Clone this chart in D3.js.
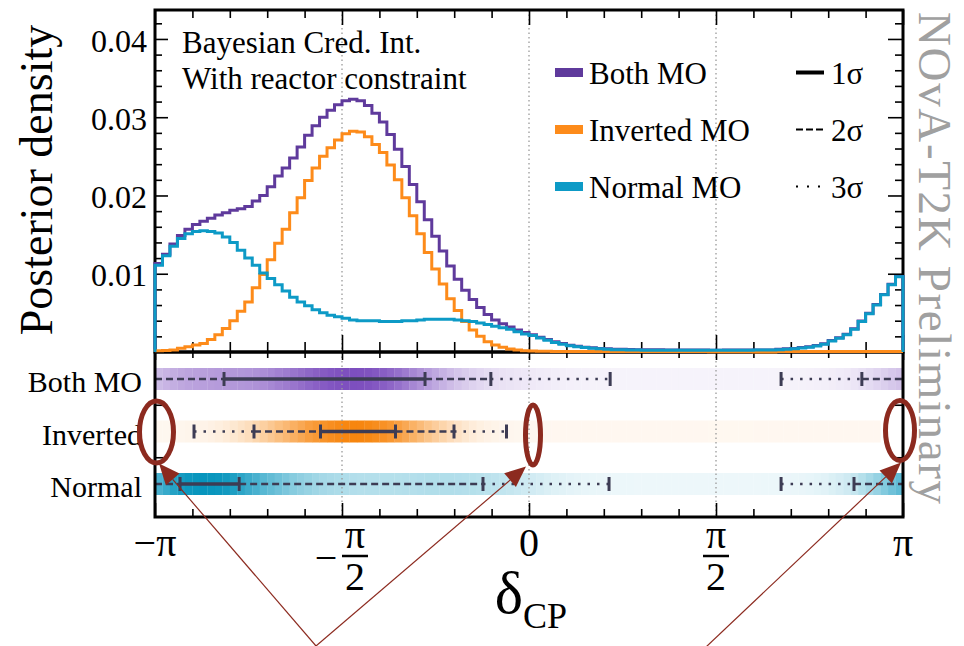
<!DOCTYPE html>
<html><head><meta charset="utf-8">
<script src="https://cdn.jsdelivr.net/npm/d3@7"></script>
<style>
body{margin:0;background:#fff}
svg{display:block}
text{font-family:"Liberation Serif","Times New Roman",serif;fill:#000}
</style>
</head><body>
<svg id="c" width="964" height="646"></svg>
<script>
// ---------------- data ----------------
const nBins = 100; // bins over [-pi, pi]
const densityNormal = [
0.0111,0.0123,0.0135,0.0145,0.0151,0.0154,0.0155,0.0154,0.0152,0.0147,
0.0140,0.0130,0.0120,0.0111,0.0101,0.0094,0.0086,0.0078,0.0070,0.0064,
0.0059,0.0054,0.0050,0.0047,0.0045,0.0043,0.0041,0.0040,0.0040,0.0040,
0.0039,0.0039,0.0039,0.0040,0.0040,0.0041,0.0042,0.0042,0.0042,0.0042,
0.0041,0.0040,0.0039,0.0037,0.0035,0.0033,0.0031,0.0029,0.0026,0.0023,
0.0021,0.0018,0.0015,0.0012,0.0010,0.00080,0.00068,0.00056,0.00047,0.00040,
0.00034,0.00030,0.00028,0.00026,0.00024,0.00023,0.00022,0.00022,0.00021,0.00021,
0.00021,0.00021,0.00021,0.00021,0.00021,0.00021,0.00022,0.00022,0.00022,0.00023,
0.00024,0.00025,0.00027,0.00030,0.00034,0.00040,0.00050,0.00062,0.00078,0.00100,
0.00140,0.00175,0.0022,0.0029,0.0039,0.0049,0.0060,0.0073,0.0086,0.0096];
const densityInverted = [
0.00017,0.00020,0.00026,0.00047,0.00068,0.00090,0.0011,0.0016,0.0022,0.0030,
0.0040,0.0052,0.0064,0.0082,0.0099,0.0118,0.0139,0.0157,0.0178,0.0197,
0.0219,0.0235,0.0250,0.0261,0.0271,0.0279,0.0282,0.0281,0.0275,0.0265,
0.0255,0.0239,0.0220,0.0197,0.0174,0.0151,0.0127,0.0106,0.0087,0.0068,
0.0053,0.0039,0.0028,0.0020,0.0013,0.00090,0.00060,0.00038,0.00026,0.00017,
0.00013,0.00010,0.00008,0.00007,0.00007,0.00006,0.00006,0.00006,0.00006,0.00006,
0.00006,0.00006,0.00006,0.00006,0.00006,0.00006,0.00006,0.00006,0.00006,0.00006,
0.00006,0.00006,0.00006,0.00006,0.00002,0.00002,0.00002,0.00002,0.00002,0.00002,
0,0,0,0.00006,0.00006,0.00006,0.00006,0.00006,0.00006,0.00006,
0.00006,0.00006,0.00006,0.00006,0.00006,0.00006,0.00006,0.00006,0.00006,0.00006];
const densityBoth = [
0.0113,0.0125,0.0138,0.0149,0.0157,0.0163,0.0167,0.0171,0.0175,0.0178,
0.0181,0.0183,0.0186,0.0193,0.0200,0.0211,0.0225,0.0235,0.0248,0.0262,
0.0277,0.0289,0.0300,0.0309,0.0316,0.0321,0.0323,0.0321,0.0315,0.0305,
0.0294,0.0278,0.0259,0.0237,0.0214,0.0192,0.0169,0.0148,0.0129,0.0110,
0.0093,0.0079,0.0067,0.0057,0.0048,0.0041,0.0036,0.0032,0.0028,0.0025,
0.0022,0.0019,0.0016,0.0013,0.0011,0.00086,0.00074,0.00062,0.00053,0.00046,
0.00040,0.00036,0.00034,0.00032,0.00030,0.00029,0.00028,0.00028,0.00027,0.00027,
0.00027,0.00027,0.00027,0.00027,0.00023,0.00023,0.00024,0.00024,0.00024,0.00025,
0.00024,0.00025,0.00027,0.00036,0.00040,0.00046,0.00056,0.00068,0.00084,0.00106,
0.00146,0.00181,0.00226,0.00296,0.00396,0.00496,0.00606,0.00736,0.00866,0.00966];

// credible intervals, in units of pi: [1sigma, 2sigma, 3sigma], each [low, high] (low > high wraps through +-pi)
const ciBoth     = [[-0.8155,-0.278],[0.890,-0.102],[0.674,0.217]];
const ciInverted = [[-0.5575,-0.357],[-0.7353,-0.2005],[-0.8957,-0.0602]];
const ciNormal   = [[-0.933,-0.775],[0.869,-0.123],[0.674,0.214]];

const yTickValues = [0.01,0.02,0.03,0.04];
const xTickValues = [-1,-0.5,0,0.5,1];           // units of pi
const xTickLabels = ["−π","−π/2","0","π/2","π"];
const rowLabels = ["Both MO","Inverted","Normal"];
const legendLabels = ["Both MO","Inverted MO","Normal MO"];
const sigmaLabels = ["1σ","2σ","3σ"];
const titleLines = ["Bayesian Cred. Int.","With reactor constraint"];
const watermark = "NOvA-T2K Preliminary";

// ---------------- style ----------------
const lineColors = ["#5f3a9c","#fd8b1a","#0d9ac6"];
const bandColors = ["#7d4fbf","#f7860f","#0795bd"];
const ciColor = "#3d3c54";
const red = "#8c2a1f";

// ---------------- layout ----------------
const L = 155, R = 903, T = 10, MID = 352, B = 517;
const svg = d3.select("#c");
const x = d3.scaleLinear().domain([-1,1]).range([L,R]);
const y = d3.scaleLinear().domain([0,0.0437]).range([MID,T]);
const row = d3.scalePoint().domain(rowLabels).range([379,484]);
const binEdges = d3.range(nBins+1).map(i => -1 + 2*i/nBins);

const seriesTop = [densityBoth, densityInverted, densityNormal];
const seriesRows = [densityBoth, densityInverted, densityNormal];
const ciRows = [ciBoth, ciInverted, ciNormal];

// ---------------- bottom panel bands ----------------
const bandH = 22;
rowLabels.forEach((lab, r) => {
  const vals = seriesRows[r];
  const mx = d3.max(vals);
  const col = d3.interpolateRgb("#ffffff", bandColors[r]);
  svg.append("g").selectAll("rect").data(vals).join("rect")
    .filter(v => v > 0)
    .attr("x", (v,i) => x(binEdges[i]))
    .attr("width", (v,i) => x(binEdges[i+1]) - x(binEdges[i]) + 0.3)
    .attr("y", row(lab) - bandH/2)
    .attr("height", bandH)
    .attr("fill", v => col(0.06 + 0.94 * v / mx));
});

// ---------------- grid lines ----------------
svg.append("g").selectAll("line").data([-0.5,0,0.5]).join("line")
  .attr("x1", d => x(d)).attr("x2", d => x(d))
  .attr("y1", T).attr("y2", B)
  .attr("stroke", "#9a9a9a").attr("stroke-width", 1.3)
  .attr("stroke-dasharray", "1.5,3");

// ---------------- credible intervals ----------------
function fwd(a, b) { return a <= b ? [[a,b]] : [[a,1],[-1,b]]; }
const levelStyle = [
  {w:3.5, dash:null},
  {w:2.6, dash:"7,4"},
  {w:2.6, dash:"2.5,7"}
];
rowLabels.forEach((lab, r) => {
  const ci = ciRows[r];
  const yy = row(lab);
  const segs = [];
  fwd(ci[0][0], ci[0][1]).forEach(s => segs.push({s, l:0}));
  fwd(ci[1][0], ci[0][0]).concat(fwd(ci[0][1], ci[1][1])).forEach(s => segs.push({s, l:1}));
  fwd(ci[2][0], ci[1][0]).concat(fwd(ci[1][1], ci[2][1])).forEach(s => segs.push({s, l:2}));
  const g = svg.append("g");
  g.selectAll("line.seg").data(segs).join("line").attr("class","seg")
    .attr("x1", d => x(d.s[0])).attr("x2", d => x(d.s[1]))
    .attr("y1", yy).attr("y2", yy)
    .attr("stroke", ciColor)
    .attr("stroke-width", d => levelStyle[d.l].w)
    .attr("stroke-dasharray", d => levelStyle[d.l].dash);
  const caps = ci.flat();
  g.selectAll("line.cap").data(caps).join("line").attr("class","cap")
    .attr("x1", d => x(d)).attr("x2", d => x(d))
    .attr("y1", yy - 7).attr("y2", yy + 7)
    .attr("stroke", ciColor).attr("stroke-width", 3);
});

// ---------------- axes / ticks ----------------
const xMinor = d3.range(-10, 11).map(i => i/10).filter(v => Math.abs(v*2 - Math.round(v*2)) > 1e-6);
const xMajor = xTickValues;
function tickStyle(g) {
  g.select(".domain").remove();
  g.selectAll(".tick line").attr("stroke", "#000").attr("stroke-width", 1.6);
}
function xAxisAt(fn, ypos, maj, min) {
  svg.append("g").attr("transform", `translate(0,${ypos})`)
    .call(fn(x).tickValues(xMinor).tickSize(-min).tickFormat("")).call(tickStyle);
  svg.append("g").attr("transform", `translate(0,${ypos})`)
    .call(fn(x).tickValues(xMajor).tickSize(-maj).tickFormat("")).call(tickStyle);
}
xAxisAt(d3.axisBottom, MID, 17, 10);
xAxisAt(d3.axisTop, T, 15, 8);
xAxisAt(d3.axisBottom, B, 14, 8);
xAxisAt(d3.axisTop, MID, 8, 6);

const yMinor = d3.range(1, 22).map(i => i*0.002).filter(v => Math.abs(v*100 - Math.round(v*100)) > 1e-6);
svg.append("g").attr("transform", `translate(${L},0)`)
  .call(d3.axisLeft(y).tickValues(yMinor).tickSize(-7).tickFormat("")).call(tickStyle);
svg.append("g").attr("transform", `translate(${L},0)`)
  .call(d3.axisLeft(y).tickValues(yTickValues).tickSize(-13).tickPadding(8).tickFormat(d3.format(".2f")))
  .call(tickStyle)
  .call(g => g.selectAll("text").attr("font-size", 32).attr("font-family", "Liberation Serif").attr("dy", "0.38em"));
svg.append("g").attr("transform", `translate(${R},0)`)
  .call(d3.axisRight(y).tickValues(yMinor).tickSize(-8).tickFormat("")).call(tickStyle);
svg.append("g").attr("transform", `translate(${R},0)`)
  .call(d3.axisRight(y).tickValues(yTickValues).tickSize(-15).tickFormat("")).call(tickStyle);

// bottom panel row separators ticks
const rowMid = [ (row(rowLabels[0]) + row(rowLabels[1]))/2, (row(rowLabels[1]) + row(rowLabels[2]))/2 ];
svg.append("g").selectAll("line").data(rowMid).join("line")
  .attr("x1", L).attr("x2", L + 8).attr("y1", d => d).attr("y2", d => d)
  .attr("stroke", "#000").attr("stroke-width", 1.6);
svg.append("g").selectAll("line").data(rowMid).join("line")
  .attr("x1", R).attr("x2", R - 8).attr("y1", d => d).attr("y2", d => d)
  .attr("stroke", "#000").attr("stroke-width", 1.6);

// frames
svg.append("rect").attr("x", L).attr("y", T).attr("width", R-L).attr("height", MID-T)
  .attr("fill", "none").attr("stroke", "#000").attr("stroke-width", 3);
svg.append("rect").attr("x", L).attr("y", MID).attr("width", R-L).attr("height", B-MID)
  .attr("fill", "none").attr("stroke", "#000").attr("stroke-width", 3);

// ---------------- histograms ----------------
const histLine = d3.line().curve(d3.curveStepAfter).x(d => x(d[0])).y(d => y(d[1]));
seriesTop.forEach((vals, s) => {
  const pts = [[binEdges[0], 0]];
  vals.forEach((v, i) => pts.push([binEdges[i], v]));
  pts.push([binEdges[nBins], vals[nBins-1]]);
  pts.push([binEdges[nBins], 0]);
  svg.append("path").attr("d", histLine(pts))
    .attr("fill", "none").attr("stroke", lineColors[s]).attr("stroke-width", 3)
    .attr("stroke-linejoin", "miter");
});

// ---------------- texts ----------------
svg.append("g").selectAll("text").data(titleLines).join("text")
  .attr("x", 182).attr("y", (d,i) => 53 + i*36)
  .attr("font-size", 31).text(d => d);

// legend
const legY = [72.5, 129.5, 186.5];
const lg = svg.append("g");
legendLabels.forEach((lab, i) => {
  lg.append("rect").attr("x", 555).attr("y", legY[i] - 4.5).attr("width", 28).attr("height", 9)
    .attr("fill", lineColors[i]);
  lg.append("text").attr("x", 589).attr("y", legY[i] + 11).attr("font-size", 31).text(lab);
});
sigmaLabels.forEach((lab, i) => {
  lg.append("line").attr("x1", 796).attr("x2", 824).attr("y1", legY[i]).attr("y2", legY[i])
    .attr("stroke", "#000").attr("stroke-width", i === 0 ? 4 : 2.2)
    .attr("stroke-dasharray", i === 0 ? null : (i === 1 ? "7,3" : "2,9"));
  lg.append("text").attr("x", 831).attr("y", legY[i] + 11).attr("font-size", 31).text(lab);
});

// y axis title
svg.append("text").attr("transform", "translate(52,180) rotate(-90)")
  .attr("text-anchor", "middle").attr("font-size", 46).text("Posterior density");

// row labels
svg.append("g").selectAll("text").data(rowLabels).join("text")
  .attr("x", 142).attr("y", d => row(d) + 13)
  .attr("text-anchor", "end").attr("font-size", 30).text(d => d);

// x tick labels
const xl = svg.append("g");
xTickValues.forEach((v, i) => {
  const lab = xTickLabels[i];
  if (lab.includes("/")) {
    const neg = lab.startsWith("−");
    const [num, den] = lab.replace("−", "").split("/");
    const cx = x(v) + (neg ? 13 : 0);
    xl.append("text").attr("x", cx).attr("y", 548).attr("text-anchor", "middle").attr("font-size", 40).text(num);
    xl.append("line").attr("x1", cx - 13).attr("x2", cx + 13).attr("y1", 556).attr("y2", 556)
      .attr("stroke", "#000").attr("stroke-width", 2.5);
    xl.append("text").attr("x", cx).attr("y", 590).attr("text-anchor", "middle").attr("font-size", 40).text(den);
    if (neg) xl.append("text").attr("x", x(v) - 16).attr("y", 571).attr("text-anchor", "middle")
      .attr("font-size", 40).text("−");
  } else {
    xl.append("text").attr("x", x(v)).attr("y", 556).attr("text-anchor", "middle").attr("font-size", 40).text(lab);
  }
});

// x axis title
const xt = svg.append("text").attr("x", 531).attr("y", 613).attr("text-anchor", "middle");
xt.append("tspan").attr("font-size", 60).text("δ");
xt.append("tspan").attr("font-size", 36).attr("dy", 15).text("CP");

// watermark
svg.append("text").attr("transform", "translate(919,12) rotate(90)")
  .attr("font-size", 47).attr("textLength", 492).attr("lengthAdjust", "spacing")
  .style("fill", "#a0a0a0").text(watermark);

// ---------------- annotations ----------------
const rowInv = row("Inverted");
const ellipses = [
  {cx: x(-1) + 1.5, cy: rowInv + 0.5, rx: 17, ry: 31},
  {cx: x(0) + 4, cy: rowInv + 3.5, rx: 7.5, ry: 30},
  {cx: x(1) - 3, cy: rowInv - 1, rx: 14.5, ry: 30}
];
svg.append("g").selectAll("ellipse").data(ellipses).join("ellipse")
  .attr("cx", d => d.cx).attr("cy", d => d.cy).attr("rx", d => d.rx).attr("ry", d => d.ry)
  .attr("fill", "none").attr("stroke", red).attr("stroke-width", 5);

const arrows = [
  {from:[316,646], to:[x(-1) + 4, rowInv + 32]},
  {from:[316,646], to:[x(0) - 3, rowInv + 35]},
  {from:[706,647], to:[x(1) - 2, rowInv + 31]}
];
const ag = svg.append("g");
arrows.forEach(a => {
  const [x0,y0] = a.from, [x1,y1] = a.to;
  const dx = x1 - x0, dy = y1 - y0, len = Math.hypot(dx, dy);
  const ux = dx/len, uy = dy/len;
  const hl = 21, hw = 9;
  const bx = x1 - ux*hl, by = y1 - uy*hl;
  ag.append("line").attr("x1", x0).attr("y1", y0).attr("x2", bx).attr("y2", by)
    .attr("stroke", red).attr("stroke-width", 1.2);
  ag.append("path")
    .attr("d", `M${x1},${y1}L${bx - uy*hw},${by + ux*hw}L${bx + uy*hw},${by - ux*hw}Z`)
    .attr("fill", red);
});
</script>
</body></html>
